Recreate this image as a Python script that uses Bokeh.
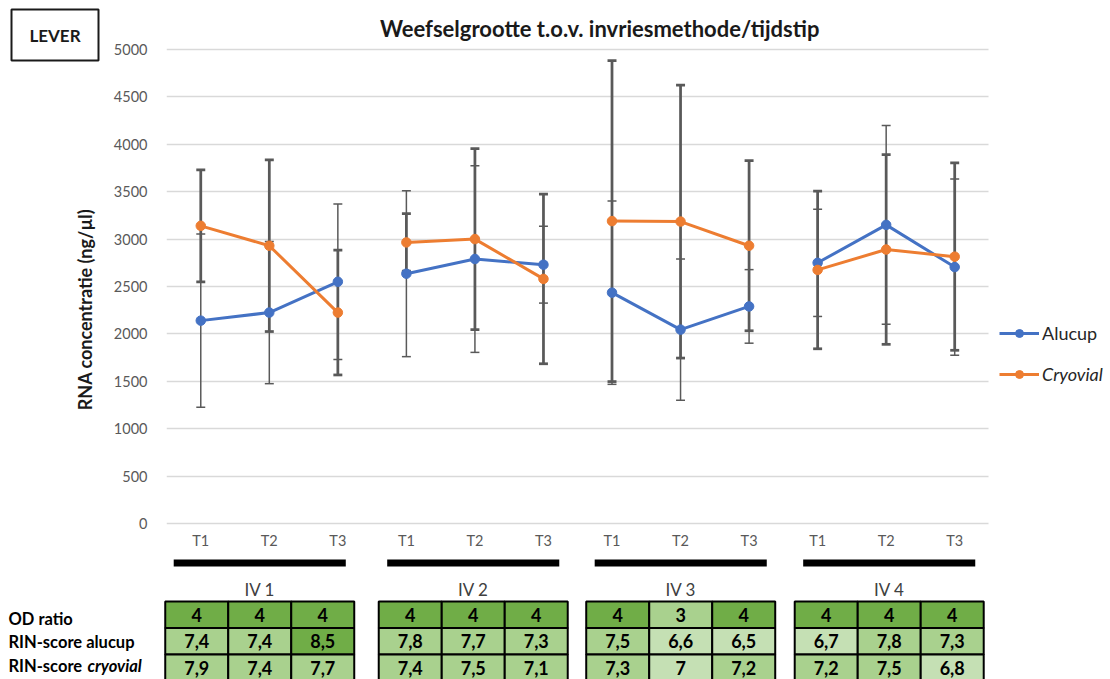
import numpy as np
from bokeh.plotting import figure
from bokeh.layouts import column, row
from bokeh.models import Range1d, FixedTicker, Legend, LegendItem
from bokeh.embed import file_html
from bokeh.resources import INLINE
from bokeh.core.properties import value

# ---------------- data ----------------
groups = ["IV 1", "IV 2", "IV 3", "IV 4"]
timepoints = ["T1", "T2", "T3"]

alucup = [2140, 2225, 2550, 2635, 2790, 2730, 2435, 2045, 2290, 2750, 3150, 2705]
alucup_err = [915, 750, 820, 875, 985, 405, 967, 745, 388, 566, 1048, 930]
cryovial = [3140, 2930, 2225, 2965, 3000, 2580, 3190, 3185, 2930, 2675, 2890, 2815]
cryovial_err = [590, 905, 658, 303, 955, 895, 1693, 1440, 897, 832, 1000, 988]

y_ticks = [0, 500, 1000, 1500, 2000, 2500, 3000, 3500, 4000, 4500, 5000]

title_text = "Weefselgrootte t.o.v. invriesmethode/tijdstip"
y_label = "RNA concentratie (ng/µl)"
organ = "LEVER"

row_labels = ["OD ratio", "RIN-score alucup", "RIN-score "]
row_label_italic = "cryovial"
od_ratio = [4, 4, 4, 4, 4, 4, 4, 3, 4, 4, 4, 4]
rin_alucup = [7.4, 7.4, 8.5, 7.8, 7.7, 7.3, 7.5, 6.6, 6.5, 6.7, 7.8, 7.3]
rin_cryovial = [7.9, 7.4, 7.7, 7.4, 7.5, 7.1, 7.3, 7.0, 7.2, 7.2, 7.5, 6.8]

# ---------------- style / layout ----------------
FONT = "Lato"
BLUE = "#4472C4"
ORANGE = "#ED7D31"
GRAY = "#595959"
GRID = "#D9D9D9"
DARK_G = "#70AD47"
MID_G = "#A9D18E"
LIGHT_G = "#C5E0B4"

TOTAL_W = 1110
PX = 68.83                # pixels per category
LEFT_W = 110
MAIN_W = TOTAL_W - LEFT_W
BORDER_L = 52
FRAME_LEFT = LEFT_W + BORDER_L   # 162
FRAME_H = 528
BORDER_B = 30
MAIN_H = FRAME_H + BORDER_B      # 558
TABLE_H = 679 - MAIN_H           # 121

Y_TOP_PX = 49                    # pixel row of the 5000 line
Y_PER_PX = 5000 / 474.0
y_top = 5000 + Y_TOP_PX * Y_PER_PX
y_bot = 5000 - (FRAME_H - Y_TOP_PX) * Y_PER_PX

frame_w = MAIN_W - BORDER_L
x_end = frame_w / PX
x_start_table = -FRAME_LEFT / PX

n = len(groups) * len(timepoints)
k = len(timepoints)
xs = np.arange(n) + 0.5
group_shift_px = [-6, 1, 2, 4]   # small layout nudges of the table blocks
group_centers = [k * g + 1.5 + group_shift_px[g] / PX for g in range(len(groups))]


def px_x(px):
    return (px - FRAME_LEFT) / PX


def px_y(py):
    return 5000 - (py - Y_TOP_PX) * Y_PER_PX


# ---------------- main chart ----------------
p = figure(width=MAIN_W, height=MAIN_H, x_range=Range1d(0, x_end), y_range=Range1d(y_bot, y_top),
           output_backend="svg", toolbar_location=None,
           min_border_left=BORDER_L, min_border_right=0, min_border_top=0, min_border_bottom=BORDER_B)
p.outline_line_color = None

p.xgrid.visible = False
p.ygrid.ticker = FixedTicker(ticks=y_ticks)
p.ygrid.grid_line_color = GRID
p.ygrid.grid_line_width = 1.5
p.ygrid.cross_bounds = (0, n)

p.yaxis.ticker = FixedTicker(ticks=y_ticks)
p.yaxis.axis_line_color = None
p.yaxis.major_tick_line_color = None
p.yaxis.minor_tick_line_color = None
p.yaxis.major_label_text_font = FONT
p.yaxis.major_label_text_font_size = "14.5px"
p.yaxis.major_label_text_color = GRAY
p.yaxis.major_label_standoff = 13

p.xaxis.ticker = FixedTicker(ticks=list(xs))
p.xaxis.major_label_overrides = {float(x): timepoints[i % k] for i, x in enumerate(xs)}
p.xaxis.axis_line_color = None
p.xaxis.major_tick_line_color = None
p.xaxis.minor_tick_line_color = None
p.xaxis.major_tick_out = 0
p.xaxis.major_tick_in = 0
p.xaxis.major_label_text_font = FONT
p.xaxis.major_label_text_font_size = "14.5px"
p.xaxis.major_label_text_color = GRAY
p.xaxis.major_label_standoff = 3

p.text(x=[px_x(597)], y=[px_y(28)], text=[title_text], text_align="center", text_baseline="middle",
       text_font=value(FONT), text_font_style="bold", text_font_size="22px", text_color="#1a1a1a")

cap = 4.5 / PX
for vals, errs, lw in [(alucup, alucup_err, 1.5), (cryovial, cryovial_err, 2.75)]:
    v = np.array(vals, dtype=float)
    e = np.array(errs, dtype=float)
    p.segment(x0=xs, y0=v - e, x1=xs, y1=v + e, line_color=GRAY, line_width=lw)
    p.segment(x0=xs - cap, y0=v + e, x1=xs + cap, y1=v + e, line_color=GRAY, line_width=lw)
    p.segment(x0=xs - cap, y0=v - e, x1=xs + cap, y1=v - e, line_color=GRAY, line_width=lw)

renderers = {}
for name, vals, color in [("Alucup", alucup, BLUE), ("Cryovial", cryovial, ORANGE)]:
    mx = [list(xs[g * k:(g + 1) * k]) for g in range(len(groups))]
    my = [list(vals[g * k:(g + 1) * k]) for g in range(len(groups))]
    ml = p.multi_line(xs=mx, ys=my, line_color=color, line_width=3)
    sc = p.scatter(x=xs, y=vals, size=9.5, fill_color=color, line_color=color)
    renderers[name] = [ml, sc]

for name, cy, style in [("Alucup", 333, "normal"), ("Cryovial", 374, "italic")]:
    loc = (1000 - FRAME_LEFT - 5, (FRAME_H - cy) - 11)
    leg = Legend(items=[LegendItem(label=name, renderers=renderers[name])], location=loc,
                 padding=0, margin=0, border_line_color=None, background_fill_alpha=0,
                 glyph_width=40, glyph_height=20, label_standoff=3, label_height=20,
                 label_text_font=FONT, label_text_font_size="18px", label_text_color="#262626",
                 label_text_font_style=style)
    p.add_layout(leg)

# ---------------- left panel (box + y label) ----------------
lf = figure(width=LEFT_W, height=MAIN_H, x_range=Range1d(0, LEFT_W), y_range=Range1d(-FRAME_H, 0),
            output_backend="svg", toolbar_location=None, x_axis_type=None, y_axis_type=None,
            min_border_left=0, min_border_right=0, min_border_top=0, min_border_bottom=BORDER_B)
lf.outline_line_color = None
lf.grid.visible = False
lf.rect(x=[54.5], y=[-34.5], width=87, height=51, fill_color="white", line_color="#1a1a1a", line_width=2)
lf.text(x=[54.5], y=[-34.5], text=[organ], text_align="center", text_baseline="middle",
        text_font=value(FONT), text_font_style="bold", text_font_size="17px", text_color="#1a1a1a")
lf.text(x=[84], y=[-309], text=[y_label], angle=np.pi / 2,
        text_align="center", text_baseline="middle",
        text_font=value(FONT), text_font_style="bold", text_font_size="18px", text_color="#1a1a1a")

# ---------------- table ----------------
t = figure(width=TOTAL_W, height=TABLE_H, x_range=Range1d(x_start_table, x_end), y_range=Range1d(-TABLE_H, 0),
           output_backend="svg", toolbar_location=None, x_axis_type=None, y_axis_type=None, min_border=0)
t.outline_line_color = None
t.grid.visible = False

t.rect(x=group_centers, y=-4.5, width=2.5, height=7, fill_color="black", line_color=None)
t.text(x=group_centers, y=-31, text=groups, text_align="center", text_baseline="middle",
       text_font=value(FONT), text_font_size="17px", text_color="#404040")

CW = 63 / PX
ROW_TOP = 43
RH = 26.5


def od_color(v):
    return DARK_G if v >= 4 else MID_G


def rin_color(v):
    if v >= 8:
        return DARK_G
    if v > 7:
        return MID_G
    return LIGHT_G


def fmt(v):
    return f"{v:g}".replace(".", ",")


label_y = [-60, -83, -107]
rows = [(od_ratio, od_color), (rin_alucup, rin_color), (rin_cryovial, rin_color)]
for r, (vals, cfun) in enumerate(rows):
    cx = [group_centers[i // k] + (i % k - 1) * CW for i in range(n)]
    cy = -(ROW_TOP + RH * r + RH / 2)
    t.rect(x=cx, y=cy, width=CW, height=RH, fill_color=[cfun(v) for v in vals],
           line_color="black", line_width=2)
    t.text(x=cx, y=cy, text=[fmt(v) for v in vals], text_align="center", text_baseline="middle",
           text_font=value(FONT), text_font_style="bold", text_font_size="18px", text_color="black")
    t.text(x=[x_start_table + 8 / PX], y=[label_y[r]], text=[row_labels[r]], text_align="left",
           text_baseline="middle", text_font=value(FONT), text_font_style="bold",
           text_font_size="16.5px", text_color="black")

t.text(x=[x_start_table + 87 / PX], y=[label_y[2]], text=[row_label_italic],
       text_align="left", text_baseline="middle", text_font=value(FONT), text_font_style="bold italic",
       text_font_size="16.5px", text_color="black")

layout = column(row(lf, p), t)
open("out.html", "w").write(file_html(layout, INLINE))
